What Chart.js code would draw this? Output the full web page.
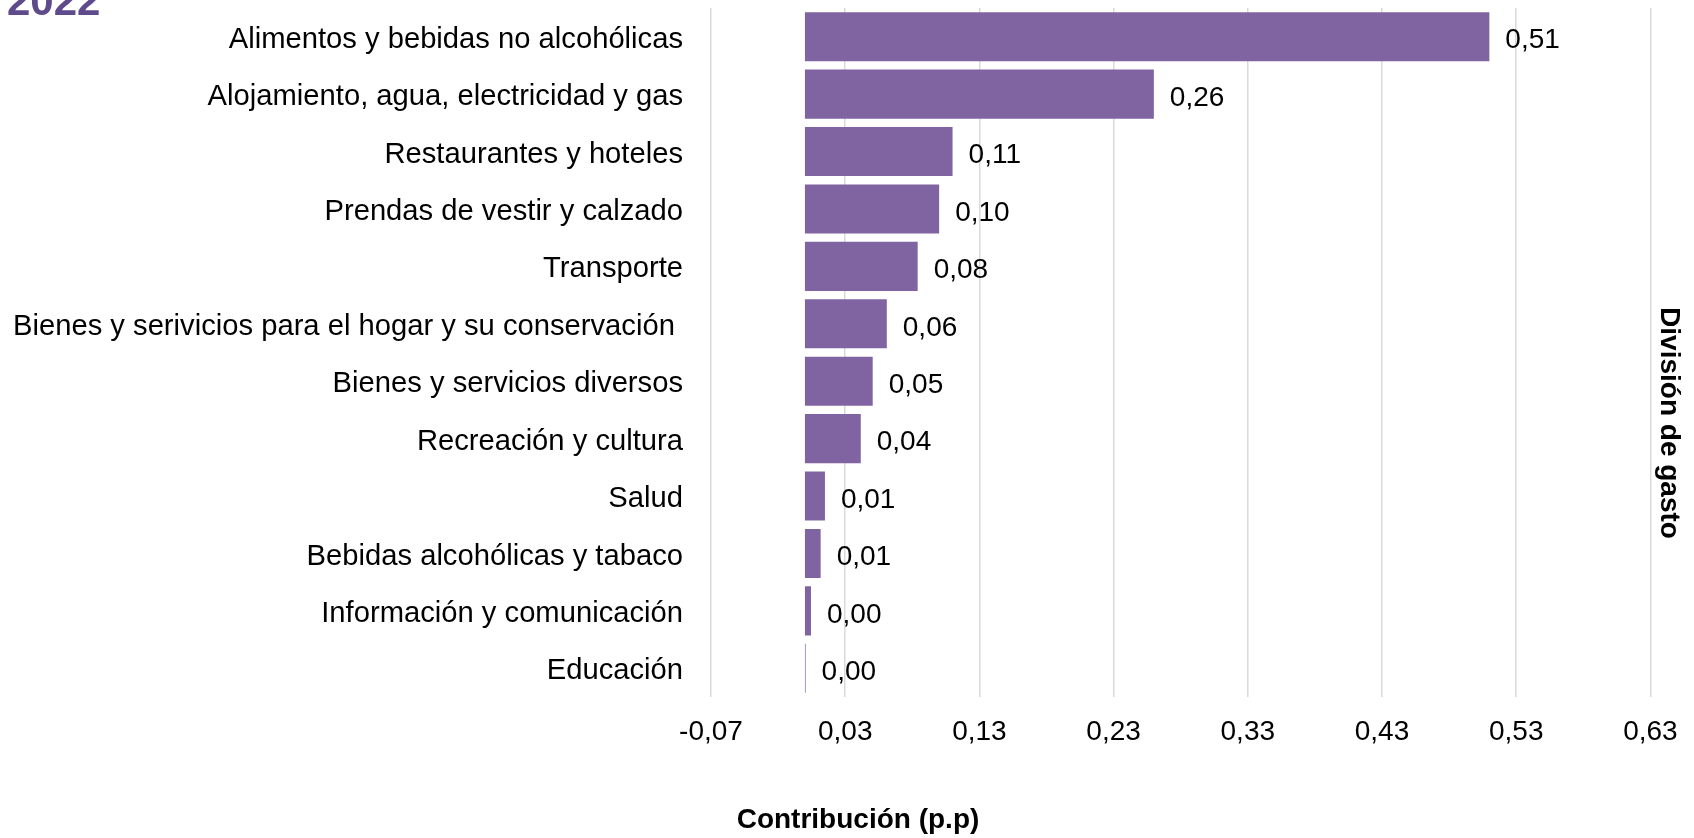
<!DOCTYPE html>
<html>
<head>
<meta charset="utf-8">
<script src="https://cdn.jsdelivr.net/npm/chart.js@4/dist/chart.umd.min.js"></script>
<style>
  body { margin: 0; background: #fff; }
  #wrap { position: relative; width: 1694px; height: 838px; overflow: hidden; }
  #year {
    position: absolute; left: 7px; top: -20px;
    font: bold 42px "Liberation Sans", Arial, sans-serif; line-height: 1;
    color: #5f4b8b;
  }
</style>
</head>
<body>
<div id="wrap">
  <canvas id="myChart" width="1694" height="838"></canvas>
  <div id="year">2022</div>
</div>
<script>
'use strict';

let categories = [
  'Alimentos y bebidas no alcohólicas',
  'Alojamiento, agua, electricidad y gas',
  'Restaurantes y hoteles',
  'Prendas de vestir y calzado',
  'Transporte',
  'Bienes y serivicios para el hogar y su conservación ',
  'Bienes y servicios diversos',
  'Recreación y cultura',
  'Salud',
  'Bebidas alcohólicas y tabaco',
  'Información y comunicación',
  'Educación'
];
let contribution = [0.51, 0.26, 0.11, 0.10, 0.084, 0.061, 0.0505, 0.0416, 0.0149, 0.0117, 0.0045, 0.0005];
let xTicks = [-0.07, 0.03, 0.13, 0.23, 0.33, 0.43, 0.53, 0.63];
let xTitle = 'Contribución (p.p)';

let fontFamily = '"Liberation Sans", Arial, sans-serif';

function fmt(v) {
  return v.toFixed(2).replace('.', ',');
}

// value labels at the end of each bar, plus the x title under the whole figure
const barLabels = {
  id: 'barLabels',
  afterDatasetsDraw(chart) {
    let ctx = chart.ctx;
    let meta = chart.getDatasetMeta(0);
    ctx.save();
    ctx.font = '28px ' + fontFamily;
    ctx.fillStyle = '#000';
    ctx.textBaseline = 'middle';
    ctx.textAlign = 'left';
    meta.data.forEach(function (bar, i) {
      ctx.fillText(fmt(contribution[i]), bar.x + 16, bar.y + 4);
    });
    ctx.restore();
  },
  afterDraw(chart) {
    let ctx = chart.ctx;
    ctx.save();
    ctx.font = 'bold 28px ' + fontFamily;
    ctx.fillStyle = '#000';
    ctx.textBaseline = 'middle';
    ctx.textAlign = 'center';
    ctx.fillText(xTitle, 858, 820);
    ctx.restore();
  }
};

const config = {
  type: 'bar',
  data: {
    labels: categories,
    datasets: [{
      data: contribution,
      backgroundColor: '#8064A2',
      barPercentage: 0.855,
      categoryPercentage: 1
    }]
  },
  options: {
    indexAxis: 'y',
    responsive: false,
    animation: false,
    layout: { padding: { left: 0, top: 8, right: 0, bottom: 0 } },
    plugins: {
      legend: { display: false },
      tooltip: { enabled: false },
      title: {
        display: true,
        text: 'División de gasto',
        position: 'right',
        color: '#000',
        font: { family: fontFamily, size: 28, weight: 'bold', lineHeight: 1.2 },
        padding: { top: 8, bottom: 2 }
      }
    },
    scales: {
      x: {
        min: -0.07,
        max: 0.63,
        afterBuildTicks: function (scale) {
          scale.ticks = xTicks.map(function (v) { return { value: v }; });
        },
        afterFit: function (scale) {
          scale.height = 141;
          scale.paddingLeft = 0;
          scale.paddingRight = 0;
        },
        ticks: {
          color: '#000',
          font: { family: fontFamily, size: 28 },
          padding: 18,
          maxRotation: 0,
          autoSkip: false,
          callback: function (v) { return fmt(v); }
        },
        grid: { color: '#d9d9d9', lineWidth: 1.5, drawTicks: false },
        border: { display: false }
      },
      y: {
        afterFit: function (scale) {
          scale.width = 711;
          scale.paddingTop = 0;
          scale.paddingBottom = 0;
        },
        ticks: {
          color: '#000',
          font: { family: fontFamily, size: 29.2 },
          padding: 28,
          labelOffset: 3,
          autoSkip: false
        },
        grid: { display: false, drawTicks: false },
        border: { display: false }
      }
    }
  },
  plugins: [barLabels]
};

let myChart = new Chart(document.getElementById('myChart'), config);
</script>
</body>
</html>
